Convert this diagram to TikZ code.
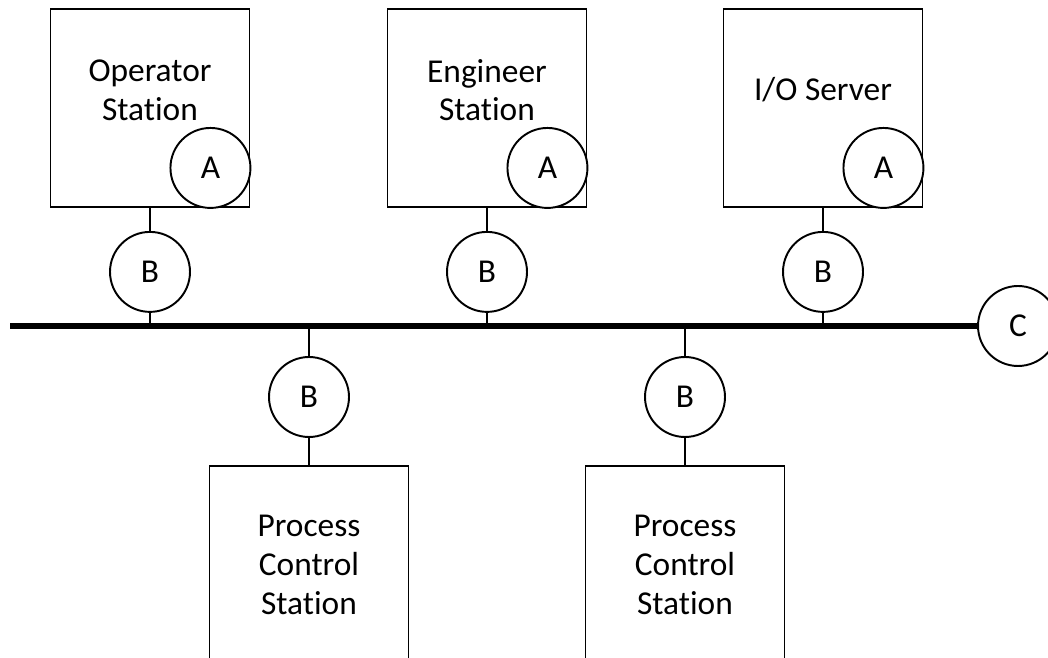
\documentclass[tikz,border=0pt]{standalone}
\usepackage{fontspec}
\setmainfont[Ligatures=NoCommon]{Carlito}
\usetikzlibrary{positioning,calc}

\begin{document}
\begin{tikzpicture}[x=0.02cm, y=-0.02cm, font=\fontsize{19}{22}\selectfont]
        \tikzstyle{station}=[draw, line width=1.1pt, minimum width=3.98cm, minimum height=3.96cm, inner sep=0pt, align=center]
        \tikzstyle{port}=[draw, circle, line width=1.1pt, minimum size=1.6cm, inner sep=0pt, fill=white]
        \tikzstyle{link}=[line width=1.1pt]
        \tikzstyle{bus}=[line width=3.6pt]
        \useasboundingbox (0,0) rectangle (1048,658);
        \clip (0,0) rectangle (1048,658);
        % stations above the bus
        \node[station]  (OS)  at (150,108)  {};
        \node[station]  (ES)  at (487,108)  {};
        \node[station]  (IO)  at (823,108)  {};
        \node[align=center] (OS_txt) at ($(OS)+(0,-18)$) {Operator\\Station};
        \node[align=center] (ES_txt) at ($(ES)+(0,-18)$) {Engineer\\Station};
        \node               (IO_txt) at ($(IO)+(0,-18)$) {I/O Server};
        \node[port]     (A1)  at ($(OS.south east)+(-40,-40)$) {A};
        \node[port]     (A2)  at ($(ES.south east)+(-40,-40)$) {A};
        \node[port]     (A3)  at ($(IO.south east)+(-40,-40)$) {A};
        \node[port]     (B1)  [below=0.46cm of OS]  {B};
        \node[port]     (B2)  [below=0.46cm of ES]  {B};
        \node[port]     (B3)  [below=0.46cm of IO]  {B};
        % the bus and its terminator
        \coordinate     (busL)  at (10,326);
        \node[port]     (C)   at (1018,326) {C};
        \draw[bus] (busL) -- (C.west);
        % stations below the bus
        \node[port]     (B4)  at (309,397)  {B};
        \node[port]     (B5)  at (685,397)  {B};
        \node[station]  (PCS1) [below=0.54cm of B4] {Process\\Control\\Station};
        \node[station]  (PCS2) [below=0.54cm of B5] {Process\\Control\\Station};
        \path[link]
        (OS) edge (B1)
        (ES) edge (B2)
        (IO) edge (B3)
        (B1.south) edge (B1.south |- busL)
        (B2.south) edge (B2.south |- busL)
        (B3.south) edge (B3.south |- busL)
        (B4.north) edge (B4.north |- busL)
        (B5.north) edge (B5.north |- busL)
        (B4) edge (PCS1)
        (B5) edge (PCS2);
\end{tikzpicture}
\end{document}
